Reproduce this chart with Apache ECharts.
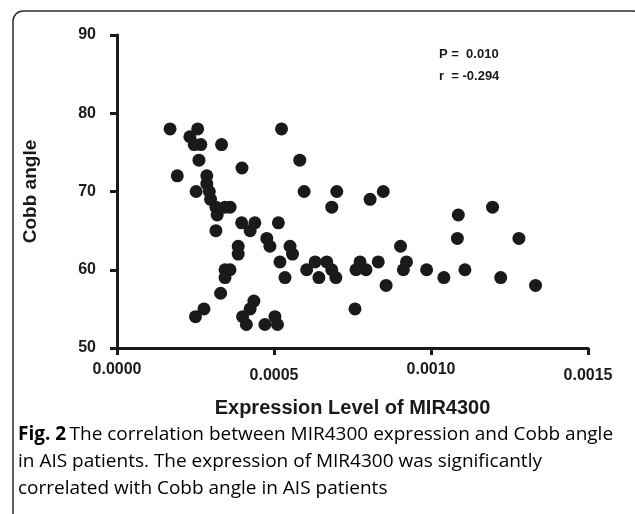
<!DOCTYPE html>
<html>
<head>
<meta charset="utf-8">
<script src="https://cdn.jsdelivr.net/npm/echarts@6/dist/echarts.min.js"></script>
<style>
  html, body { margin: 0; padding: 0; background: #fff; }
  #chart { width: 635px; height: 514px; }
</style>
</head>
<body>
<div id="chart"></div>
<script>
// expression level (x 1e-4)
const expression = [
  1.69, 2.57, 2.32, 2.46, 2.67, 3.33, 5.24, 2.61, 5.82, 3.98,
  1.92, 2.86, 2.86, 2.52, 2.94, 2.98, 3.15, 3.44, 3.60, 3.19,
  3.97, 4.39, 5.14, 3.15, 4.24, 4.77, 4.87, 3.86, 3.86, 5.51,
  5.59, 5.19, 5.35, 3.44, 3.60, 3.44, 3.30, 2.77, 2.50, 4.36,
  4.24, 4.00, 4.12, 4.71, 5.03, 5.11, 5.96, 7.00, 6.84, 8.06,
  8.48, 10.87, 11.96, 10.84, 12.80, 9.03, 6.04, 6.31, 6.43, 6.68,
  6.84, 6.97, 7.61, 7.74, 7.93, 8.32, 8.57, 7.58, 9.22, 9.12,
  9.86, 10.41, 11.08, 12.22, 13.33
];
const cobbAngle = [
  78, 78, 77, 76, 76, 76, 78, 74, 74, 73,
  72, 72, 71, 70, 70, 69, 68, 68, 68, 67,
  66, 66, 66, 65, 65, 64, 63, 63, 62, 63,
  62, 61, 59, 60, 60, 59, 57, 55, 54, 56,
  55, 54, 53, 53, 54, 53, 70, 70, 68, 69,
  70, 67, 68, 64, 64, 63, 60, 61, 59, 61,
  60, 59, 60, 61, 60, 61, 58, 55, 61, 60,
  60, 59, 60, 59, 58
];
const xTicks = [0, 0.0005, 0.0010, 0.0015];
const yTicks = [50, 60, 70, 80, 90];
const statLines = ["P =  0.010", "r  = -0.294"];

const points = expression.map((x, i) => [x * 1e-4, cobbAngle[i]]);

const chart = echarts.init(document.getElementById("chart"), null, { renderer: "canvas" });

const axisFont = "Liberation Sans, Arial, sans-serif";
const ink = "#1a1a1a";

chart.setOption({
  animation: false,
  grid: { left: 117, right: 47, top: 35, bottom: 166, containLabel: false },
  xAxis: {
    type: "value",
    min: xTicks[0],
    max: xTicks[xTicks.length - 1],
    interval: 0.0005,
    splitLine: { show: false },
    axisLine: { lineStyle: { color: ink, width: 3 } },
    axisTick: { length: 7, lineStyle: { color: ink, width: 3 } },
    axisLabel: {
      margin: 14,
      formatter: (v) => {
        const s = v.toFixed(4);
        const idx = xTicks.findIndex((t) => Math.abs(t - v) < 1e-9);
        return idx % 2 === 1 ? "{lo|" + s + "}" : "{hi|" + s + "}";
      },
      rich: {
        hi: { fontFamily: axisFont, fontWeight: "bold", fontSize: 16, color: ink },
        lo: { fontFamily: axisFont, fontWeight: "bold", fontSize: 16, color: ink, padding: [6, 0, 0, 0] }
      }
    },
    name: "Expression Level of MIR4300",
    nameLocation: "middle",
    nameGap: 50,
    nameTextStyle: { fontFamily: axisFont, fontWeight: "bold", fontSize: 20, color: ink }
  },
  yAxis: {
    type: "value",
    min: yTicks[0],
    max: yTicks[yTicks.length - 1],
    interval: 10,
    splitLine: { show: false },
    axisLine: { show: true, lineStyle: { color: ink, width: 3 } },
    axisTick: { show: true, length: 7, lineStyle: { color: ink, width: 3 } },
    axisLabel: { margin: 21, fontFamily: axisFont, fontWeight: "bold", fontSize: 16, color: ink },
    name: "Cobb angle",
    nameLocation: "middle",
    nameGap: 77,
    nameTextStyle: { fontFamily: axisFont, fontWeight: "bold", fontSize: 19, color: ink }
  },
  series: [{
    type: "scatter",
    data: points,
    symbol: "circle",
    symbolSize: 13,
    itemStyle: { color: ink, opacity: 1 }
  }],
  graphic: [
    {
      type: "rect",
      shape: { x: 13, y: 11, width: 630, height: 530, r: 10 },
      style: { fill: null, stroke: "#2b2b2b", lineWidth: 1.5 },
      silent: true
    },
    {
      type: "text", left: 439, top: 48,
      style: { text: statLines[0], font: "bold 13px Liberation Sans, Arial, sans-serif", fill: ink }
    },
    {
      type: "text", left: 439, top: 70,
      style: { text: statLines[1], font: "bold 13px Liberation Sans, Arial, sans-serif", fill: ink }
    },
    {
      type: "text", left: 18, top: 425,
      style: {
        text: "{b|Fig. 2} {n|The correlation between MIR4300 expression and Cobb angle}\n" +
              "{n|in AIS patients. The expression of MIR4300 was significantly}\n" +
              "{n|correlated with Cobb angle in AIS patients}",
        rich: {
          b: { fontFamily: "Open Sans, sans-serif", fontWeight: "bold", fontSize: 19, color: "#231f20", lineHeight: 27 },
          n: { fontFamily: "Open Sans, sans-serif", fontSize: 19, color: "#3a3a3a", lineHeight: 27 }
        }
      }
    }
  ]
});
</script>
</body>
</html>
